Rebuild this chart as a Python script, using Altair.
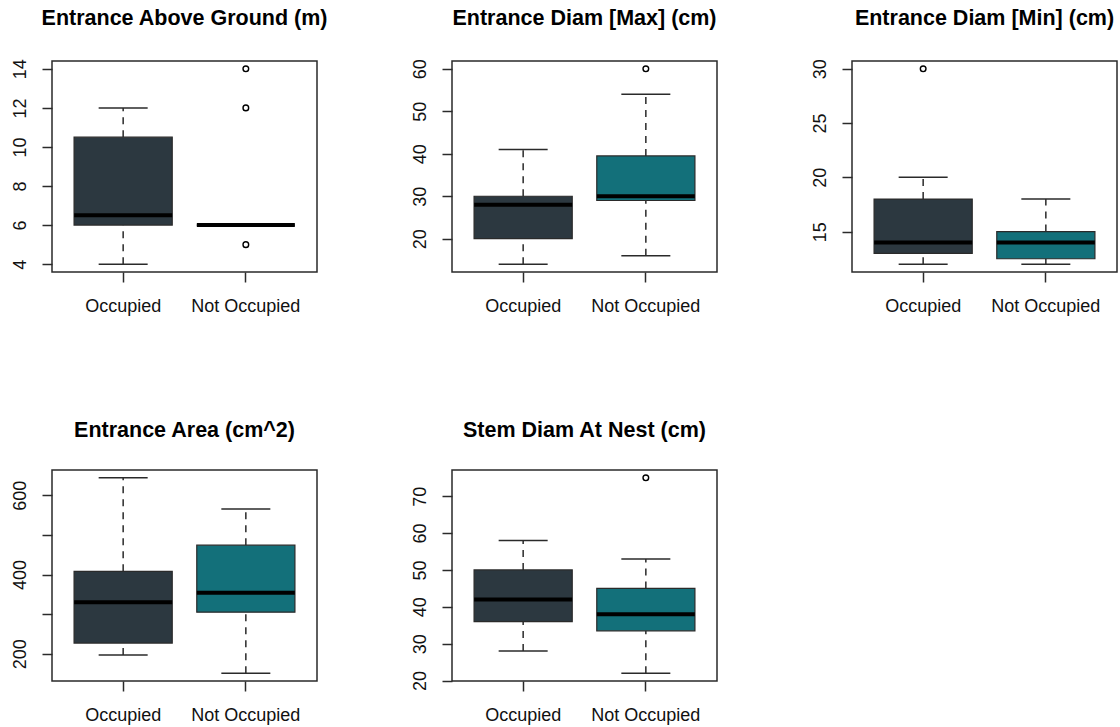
import altair as alt
import pandas as pd

# ---- data ----
groups = ["Occupied", "Not Occupied"]
titles = [
    "Entrance Above Ground (m)",
    "Entrance Diam [Max] (cm)",
    "Entrance Diam [Min] (cm)",
    "Entrance Area (cm^2)",
    "Stem Diam At Nest (cm)",
]
lower = [[4, 6], [14, 16], [12, 12], [197, 151], [28, 22]]
q1 = [[6, 6], [20, 29], [13, 12.5], [227, 305], [36, 33.5]]
median = [[6.5, 6], [28, 30], [14, 14], [330, 354], [42, 38]]
q3 = [[10.5, 6], [30, 39.5], [18, 15], [408, 474], [50, 45]]
upper = [[12, 6], [41, 54], [20, 18], [644, 565], [58, 53]]
outliers = [
    [[], [14, 12, 5]],
    [[], [60]],
    [[30], []],
    [[], []],
    [[], [75]],
]
tick_values = [
    [4, 6, 8, 10, 12, 14],
    [20, 30, 40, 50, 60],
    [15, 20, 25, 30],
    [200, 300, 400, 500, 600],
    [20, 30, 40, 50, 60, 70],
]
label_values = [
    [4, 6, 8, 10, 12, 14],
    [20, 30, 40, 50, 60],
    [15, 20, 25, 30],
    [200, 400, 600],
    [20, 30, 40, 50, 60, 70],
]
colors = ["#2C3840", "#13707A"]

FONT = "Liberation Sans"
W, H = 265, 211
LINE = "#2a2a2a"


def panel(i):
    df = pd.DataFrame({
        "group": groups,
        "lower": lower[i],
        "q1": q1[i],
        "median": median[i],
        "q3": q3[i],
        "upper": upper[i],
    })
    out_rows = [{"group": g, "value": v} for g, vals in zip(groups, outliers[i]) for v in vals]
    allvals = lower[i] + upper[i] + [r["value"] for r in out_rows]
    lo, hi = min(allvals), max(allvals)
    ext = (hi - lo) * 0.04
    yscale = alt.Scale(domain=[lo - ext, hi + ext], nice=False, zero=False)
    labs = label_values[i]
    label_expr = "indexof(" + str(labs) + ", datum.value) >= 0 ? datum.label : ''"
    yaxis = alt.Axis(values=tick_values[i], labelExpr=label_expr, title=None)
    x = alt.X("group:N", sort=groups,
              scale=alt.Scale(paddingInner=0.2, paddingOuter=0.18),
              axis=alt.Axis(title=None, labelAngle=0))

    base = alt.Chart(df).encode(x=x)
    w1 = base.mark_rule(color=LINE, strokeDash=[7, 6], strokeWidth=1.5).encode(
        y=alt.Y("lower:Q", scale=yscale, axis=yaxis), y2="q1:Q")
    w2 = base.mark_rule(color=LINE, strokeDash=[7, 6], strokeWidth=1.5).encode(
        y=alt.Y("q3:Q"), y2="upper:Q")
    cap_lo = base.mark_tick(color=LINE, size=49, thickness=1.5, opacity=1).encode(y="lower:Q")
    cap_hi = base.mark_tick(color=LINE, size=49, thickness=1.5, opacity=1).encode(y="upper:Q")
    box = base.mark_bar(stroke=LINE, strokeWidth=1.2, opacity=1).encode(
        y="q1:Q", y2="q3:Q",
        color=alt.Color("group:N", sort=groups,
                        scale=alt.Scale(domain=groups, range=colors), legend=None))
    med = base.mark_tick(color="black", size=98, thickness=4, opacity=1).encode(y="median:Q")
    layers = [w1, w2, cap_lo, cap_hi, box, med]
    if out_rows:
        pts = alt.Chart(pd.DataFrame(out_rows)).mark_point(
            shape="circle", filled=False, size=32, color="black", strokeWidth=1.4, opacity=1
        ).encode(x=x, y="value:Q")
        layers.append(pts)
    return alt.layer(*layers).properties(
        width=W, height=H,
        title=alt.TitleParams(titles[i], anchor="middle", frame="group", offset=12,
                              baseline="alphabetic", font=FONT, fontSize=21.5,
                              fontWeight="bold", color="black"),
    ).resolve_scale(y="shared")


chart = alt.concat(
    *[panel(i) for i in range(5)],
    columns=3,
    spacing=alt.RowColnumber(row=198, column=135),
    bounds="flush",
).properties(
    padding={"left": 10, "top": 7, "right": 0, "bottom": 0},
    background="white",
).configure_view(
    stroke=LINE, strokeWidth=1.5, fill="white"
).configure_axis(
    grid=False, domain=False,
    labelFont=FONT, labelFontSize=18, labelColor="#111111",
    tickColor=LINE, tickWidth=1.5, tickSize=10,
).configure_axisX(
    labelBaseline="alphabetic", labelPadding=29,
).configure_axisY(
    labelAngle=270, labelAlign="center", labelBaseline="alphabetic", labelPadding=17,
)

chart.save("out.html", embed_options={"renderer": "svg", "actions": False})
